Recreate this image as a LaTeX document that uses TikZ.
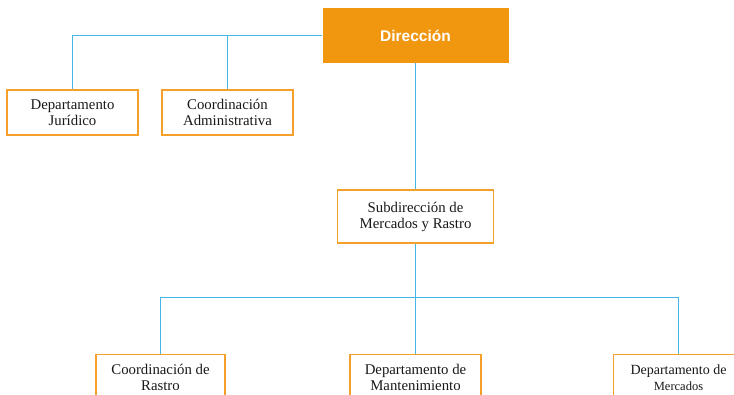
\documentclass[tikz,border=0pt]{standalone}
\usepackage{fontspec}
\setmainfont{Liberation Serif}
\newfontfamily\dirfont{Liberation Sans}
\definecolor{orgfill}{HTML}{F0960F}
\definecolor{orgline}{HTML}{F5A02A}
\definecolor{conn}{HTML}{45B5E8}
\begin{document}
\begin{tikzpicture}[x=1pt,y=-1pt,
  unit/.style={draw=orgline, line width=1.2pt, fill=white, inner sep=0pt, align=center,
    font=\fontsize{14.8}{16}\selectfont, text=black!90},
  head/.style={fill=orgfill, inner sep=0pt, align=center, text=white,
    font=\dirfont\bfseries\fontsize{15.5}{17}\selectfont},
  link/.style={draw=conn, line width=1.1pt}]
\useasboundingbox (0,0) rectangle (734,395);
\clip (0,0) rectangle (734,395);
\node[head, minimum width=186pt, minimum height=55pt] (dir) at (415.5,35.5) {Dirección};
\node[unit, minimum width=131pt, minimum height=45pt] (jur) at (72.5,112.5) {Departamento\\Jurídico};
\node[unit, minimum width=131pt, minimum height=45pt] (adm) at (227.5,112.5) {Coordinación\\Administrativa};
\node[unit, minimum width=156pt, minimum height=53pt] (sub) at (415.5,216.5) {Subdirección de\\Mercados y Rastro};
\node[unit, minimum width=129pt, minimum height=50pt, anchor=north] (ras) at (160.5,354) {Coordinación de\\Rastro\strut};
\node[unit, minimum width=131pt, minimum height=50pt, anchor=north] (man) at (415.5,354) {Departamento de\\Mantenimiento\strut};
\node[unit, minimum width=130pt, minimum height=50pt, anchor=north, font=\fontsize{14}{16}\selectfont] (mer) at (678.5,354) {Departamento de\\{\fontsize{12.5}{16}\selectfont Mercados}\strut};
\coordinate (bus) at (415.5,297.5);
\draw[link] (dir.west) -| (jur.north);
\draw[link] (adm.north) |- (dir.west);
\draw[link] (dir.south) -- (sub.north);
\draw[link] (sub.south) -- (man.north);
\draw[link] (ras.north) |- (bus) -| (mer.north);
\end{tikzpicture}
\end{document}
